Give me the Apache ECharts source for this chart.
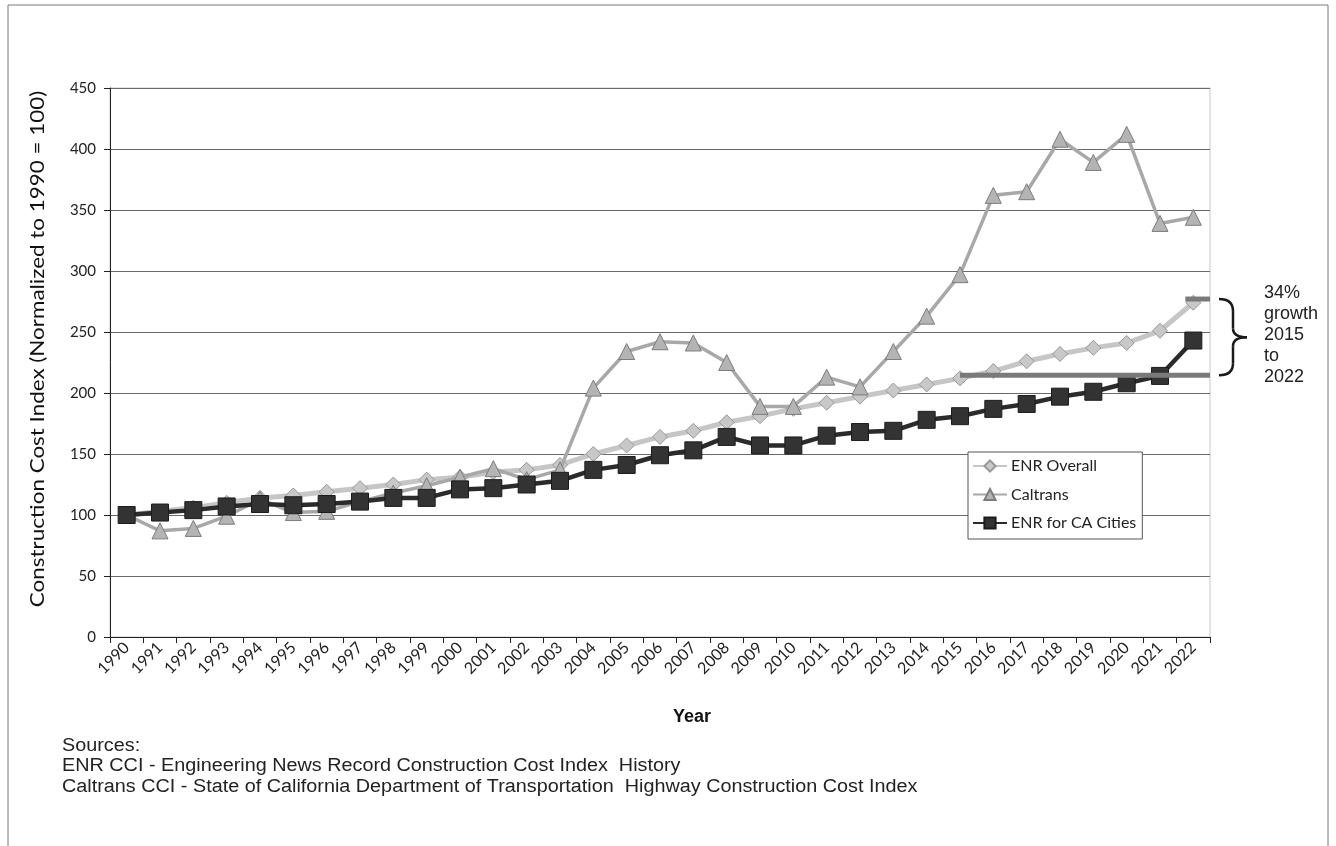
<!DOCTYPE html>
<html>
<head>
<meta charset="utf-8">
<script src="https://cdn.jsdelivr.net/npm/echarts@6/dist/echarts.min.js"></script>
<style>
html,body{margin:0;padding:0;background:#fff;}
#chart{width:1336px;height:846px;}
</style>
</head>
<body>
<div id="chart"></div>
<script>
const years = ['1990','1991','1992','1993','1994','1995','1996','1997','1998','1999','2000','2001','2002','2003','2004','2005','2006','2007','2008','2009','2010','2011','2012','2013','2014','2015','2016','2017','2018','2019','2020','2021','2022'];
const enrOverall = [100,103,106,110,114,116,119,122,125,129,131,135,137,141,150,157,164,169,176,181,187,192,197,202,207,212,218,226,232,237,241,251,274];
const caltrans = [100,87,89,99,113,102,103,111,118,124,131,138,129,137,204,234,242,241,225,189,189,213,205,234,263,297,362,365,408,389,412,339,344];
const enrCA = [100,102,104,107,109,108,109,111,114,114,121,122,125,128,137,141,149,153,164,157,157,165,168,169,178,181,187,191,197,201,208,214,243];
const growthLevels = [214.5, 277];
const growthLabel = ['34%','growth','2015','to','2022'];
const sourceLines = ['Sources:','ENR CCI - Engineering News Record Construction Cost Index  History','Caltrans CCI - State of California Department of Transportation  Highway Construction Cost Index'];
const yAxisTitle = 'Construction Cost Index (Normalized to 1990 = 100)';
const xAxisTitle = 'Year';

const chart = echarts.init(document.getElementById('chart'));
const option = {
  animation: false,
  backgroundColor: '#fff',
  grid: {left: 110, top: 88, right: 126, bottom: 209, show: true, borderColor: '#c8c8c8', borderWidth: 1},
  legend: {
    orient: 'vertical', left: 968, top: 452,
    backgroundColor: '#fff', borderColor: '#555', borderWidth: 1,
    padding: [6, 6, 8, 4], itemGap: 12.5, itemWidth: 34, itemHeight: 14,
    textStyle: {fontFamily: 'Lato', fontSize: 16, lineHeight: 16, color: '#222', padding: [0, 0, 0, -1]},
    data: ['ENR Overall','Caltrans','ENR for CA Cities']
  },
  xAxis: {
    type: 'category', data: years, boundaryGap: true,
    axisLine: {lineStyle: {color: '#222', width: 1}},
    axisTick: {show: true, alignWithLabel: false, length: 6, lineStyle: {color: '#222'}},
    axisLabel: {rotate: 45, fontFamily: 'Lato', fontSize: 16, color: '#222', interval: 0, margin: 8},
    splitLine: {show: false}
  },
  yAxis: {
    type: 'value', min: 0, max: 450, interval: 50,
    axisLine: {show: true, lineStyle: {color: '#222', width: 1}},
    axisTick: {show: true, length: 6, lineStyle: {color: '#222'}},
    axisLabel: {fontFamily: 'Lato', fontSize: 15, color: '#222', margin: 14},
    splitLine: {show: true, lineStyle: {color: '#6a6a6a', width: 1}}
  },
  series: [
    {
      name: 'ENR Overall', type: 'line', data: enrOverall,
      symbol: 'diamond', symbolSize: 15,
      lineStyle: {color: '#c6c6c6', width: 5},
      itemStyle: {color: '#c8c8c8', borderColor: '#989898', borderWidth: 1},
      z: 2
    },
    {
      name: 'Caltrans', type: 'line', data: caltrans,
      symbol: 'triangle', symbolSize: 16,
      lineStyle: {color: '#a8a8a8', width: 3.5},
      itemStyle: {color: '#b4b4b4', borderColor: '#7c7c7c', borderWidth: 1},
      z: 3
    },
    {
      name: 'ENR for CA Cities', type: 'line', data: enrCA,
      symbol: 'rect', symbolSize: 17,
      lineStyle: {color: '#2b2b2b', width: 4.5},
      itemStyle: {color: '#333', borderColor: '#1c1c1c', borderWidth: 1},
      z: 4
    }
  ]
};
chart.setOption(option);

function drawExtras() {
  const rightX = 1336 - 126;
  const x2015 = chart.convertToPixel({xAxisIndex: 0}, '2015');
  const x2022 = chart.convertToPixel({xAxisIndex: 0}, '2022');
  const yLow = chart.convertToPixel({yAxisIndex: 0}, growthLevels[0]);
  const yHigh = chart.convertToPixel({yAxisIndex: 0}, growthLevels[1]);
  const yMid = (yLow + yHigh) / 2;
  const bx = rightX + 9, cx = bx + 14, tip = cx + 14;
  const braceStyle = {fill: 'none', stroke: '#1a1a1a', lineWidth: 2.5};
  const els = [
    {type: 'rect', shape: {x: 8, y: 5, width: 1320, height: 900}, style: {fill: 'none', stroke: '#7a7a7a', lineWidth: 1}, silent: true, z: 0},
    {type: 'line', shape: {x1: x2015, y1: yLow, x2: rightX, y2: yLow}, style: {stroke: '#7a7a7a', lineWidth: 5}, z: 10},
    {type: 'line', shape: {x1: x2022 - 8, y1: yHigh, x2: rightX, y2: yHigh}, style: {stroke: '#7a7a7a', lineWidth: 5}, z: 10},
    {type: 'bezierCurve', shape: {x1: bx, y1: yHigh, cpx1: cx, cpy1: yHigh, x2: cx, y2: yHigh + 12}, style: braceStyle, z: 10},
    {type: 'line', shape: {x1: cx, y1: yHigh + 12, x2: cx, y2: yMid - 9}, style: braceStyle, z: 10},
    {type: 'bezierCurve', shape: {x1: cx, y1: yMid - 9, cpx1: cx, cpy1: yMid, x2: tip, y2: yMid}, style: braceStyle, z: 10},
    {type: 'bezierCurve', shape: {x1: tip, y1: yMid, cpx1: cx, cpy1: yMid, x2: cx, y2: yMid + 9}, style: braceStyle, z: 10},
    {type: 'line', shape: {x1: cx, y1: yMid + 9, x2: cx, y2: yLow - 12}, style: braceStyle, z: 10},
    {type: 'bezierCurve', shape: {x1: cx, y1: yLow - 12, cpx1: cx, cpy1: yLow, x2: bx, y2: yLow}, style: braceStyle, z: 10},
    {type: 'text', x: 38, y: 349, rotation: Math.PI / 2, scaleX: 1.18,
      style: {text: yAxisTitle, fontFamily: 'Lato', fontSize: 19, fill: '#111', align: 'center', verticalAlign: 'middle'}, z: 10},
    {type: 'text', x: 692, y: 717,
      style: {text: xAxisTitle, fontFamily: 'Liberation Sans', fontWeight: 'bold', fontSize: 18, fill: '#111', align: 'center', verticalAlign: 'middle'}, z: 10}
  ];
  growthLabel.forEach(function (t, i) {
    els.push({type: 'text', x: 1264, y: 293 + i * 21, style: {text: t, fontFamily: 'Liberation Sans', fontSize: 18, fill: '#222', verticalAlign: 'middle', align: 'left'}, z: 10});
  });
  sourceLines.forEach(function (t, i) {
    els.push({type: 'text', x: 62, y: 746 + i * 20.5, scaleX: 1.1, style: {text: t, fontFamily: 'Liberation Sans', fontSize: 18, fill: '#222', verticalAlign: 'middle', align: 'left'}, z: 10});
  });
  chart.setOption({graphic: {elements: els}});
}
drawExtras();
</script>
</body>
</html>
